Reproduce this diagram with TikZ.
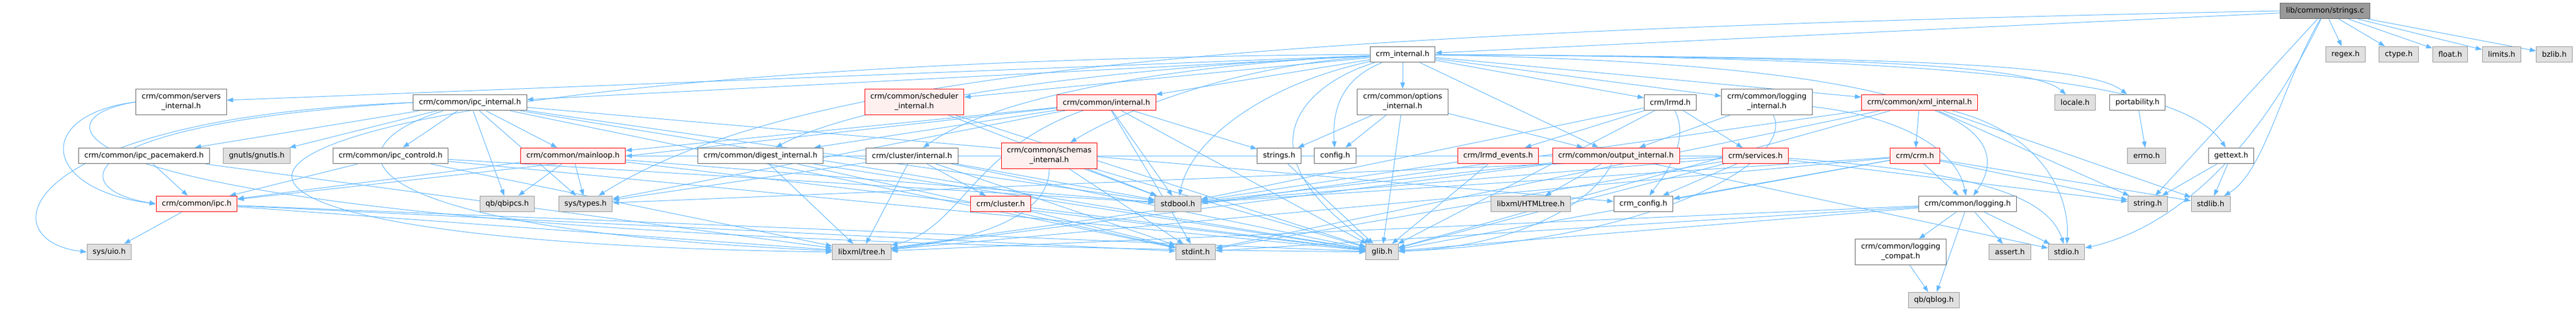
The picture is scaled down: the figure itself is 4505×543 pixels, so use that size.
\documentclass[tikz,border=0pt]{standalone}
\usepackage{fontspec}
\setmainfont{DejaVu Sans}
\usetikzlibrary{arrows.meta,backgrounds}
\definecolor{incblue}{HTML}{63B8FF}
\definecolor{hdrline}{HTML}{666666}
\definecolor{sysline}{HTML}{999999}
\definecolor{sysfill}{HTML}{E0E0E0}
\definecolor{cutfill}{HTML}{FFF0F0}
\definecolor{srcfill}{HTML}{999999}

\begin{document}
\begin{tikzpicture}[x=1pt,y=-1pt,
  font=\fontsize{13}{17}\selectfont,
  >={Triangle[length=11pt,width=8pt]},
  hdr/.style={draw=hdrline,fill=white,line width=1pt,inner xsep=10pt,inner ysep=7.5pt,minimum height=27pt,align=center},
  syshdr/.style={hdr,draw=sysline,fill=sysfill},
  cuthdr/.style={hdr,draw=red,fill=cutfill},
  srcfile/.style={hdr,draw=hdrline,fill=srcfill},
  inc/.style={->,draw=incblue,line width=1pt}]
\useasboundingbox (0,0) rectangle (4505,543);
\node[srcfile] (strc) at (4066,19) {lib/common/strings.c};
\node[hdr] (crmint) at (2453,95) {crm\_internal.h};
\node[syshdr] (regex) at (4102,95) {regex.h};
\node[syshdr] (ctype) at (4195,95) {ctype.h};
\node[syshdr] (float) at (4285,95) {float.h};
\node[syshdr] (limits) at (4375,95) {limits.h};
\node[syshdr] (bzlib) at (4467,95) {bzlib.h};
\node[hdr] (servint) at (317,178) {crm/common/servers\\\_internal.h};
\node[hdr] (ipcint) at (822,179) {crm/common/ipc\_internal.h};
\node[cuthdr] (schedint) at (1599,178) {crm/common/scheduler\\\_internal.h};
\node[cuthdr] (cmnint) at (1935,179) {crm/common/internal.h};
\node[hdr] (optint) at (2453,178) {crm/common/options\\\_internal.h};
\node[hdr] (lrmd) at (2921,179) {crm/lrmd.h};
\node[hdr] (logint) at (3090,178) {crm/common/logging\\\_internal.h};
\node[cuthdr] (xmlint) at (3357,179) {crm/common/xml\_internal.h};
\node[syshdr] (locale) at (3629,179) {locale.h};
\node[hdr] (portab) at (3738,179) {portability.h};
\node[hdr] (ipcpcmk) at (252,272) {crm/common/ipc\_pacemakerd.h};
\node[syshdr] (gnutls) at (449,272) {gnutls/gnutls.h};
\node[hdr] (ipcctl) at (683,272) {crm/common/ipc\_controld.h};
\node[cuthdr] (mainloop) at (1002,272) {crm/common/mainloop.h};
\node[hdr] (digint) at (1330,272) {crm/common/digest\_internal.h};
\node[hdr] (clustint) at (1595,272) {crm/cluster/internal.h};
\node[cuthdr] (schemint) at (1835,272) {crm/common/schemas\\\_internal.h};
\node[hdr] (strsh) at (2237,272) {strings.h};
\node[hdr] (config) at (2335,272) {config.h};
\node[cuthdr] (lrmdev) at (2620,272) {crm/lrmd\_events.h};
\node[cuthdr] (outint) at (2826,272) {crm/common/output\_internal.h};
\node[cuthdr] (services) at (3070,272) {crm/services.h};
\node[cuthdr] (crmh) at (3349,272) {crm/crm.h};
\node[syshdr] (errno) at (3754,272) {errno.h};
\node[hdr] (gettext) at (3902,272) {gettext.h};
\node[cuthdr] (ipc) at (344,356) {crm/common/ipc.h};
\node[syshdr] (qbipcs) at (887,356) {qb/qbipcs.h};
\node[syshdr] (systypes) at (1024,356) {sys/types.h};
\node[cuthdr] (cluster) at (1750,356) {crm/cluster.h};
\node[syshdr] (stdbool) at (2060,356) {stdbool.h};
\node[syshdr] (htmltree) at (2677,356) {libxml/HTMLtree.h};
\node[hdr] (crmconf) at (2874,356) {crm\_config.h};
\node[hdr] (logging) at (3441,356) {crm/common/logging.h};
\node[syshdr] (string) at (3756,356) {string.h};
\node[syshdr] (stdlib) at (3866,356) {stdlib.h};
\node[syshdr] (uio) at (191,440) {sys/uio.h};
\node[syshdr] (xmltree) at (1507,440) {libxml/tree.h};
\node[syshdr] (stdint) at (2091,440) {stdint.h};
\node[syshdr] (glib) at (2417,440) {glib.h};
\node[hdr] (logcompat) at (3324,440) {crm/common/logging\\\_compat.h};
\node[syshdr] (assert) at (3515,440) {assert.h};
\node[syshdr] (stdio) at (3614,440) {stdio.h};
\node[syshdr] (qblog) at (3382,524) {qb/qblog.h};
\begin{scope}[on background layer]
\draw[inc] (strc) -- (crmint);
\draw[inc] (strc) -- (regex);
\draw[inc] (strc) -- (ctype);
\draw[inc] (strc) -- (float);
\draw[inc] (strc) -- (limits);
\draw[inc] (strc) -- (bzlib);
\draw[inc] (strc) -- (string);
\draw[inc] (strc) .. controls (3990,150) and (3960,300) .. (stdlib);
\draw[inc] (strc) .. controls (3915,330) and (3750,410) .. (stdio);
\draw[inc] (strc.west) .. controls (2200,55) and (1400,120) .. (systypes);
\draw[inc] (crmint) -- (servint);
\draw[inc] (crmint) -- (ipcint);
\draw[inc] (crmint) -- (schedint);
\draw[inc] (crmint) -- (cmnint);
\draw[inc] (crmint) .. controls (2100,110) and (1750,160) .. (clustint);
\draw[inc] (crmint) .. controls (2150,115) and (1950,200) .. (schemint);
\draw[inc] (crmint) .. controls (1900,120) and (1500,180) .. (digint);
\draw[inc] (crmint) -- (optint);
\draw[inc] (crmint) -- (lrmd);
\draw[inc] (crmint) -- (logint);
\draw[inc] (crmint) -- (xmlint);
\draw[inc] (crmint) .. controls (3200,100) and (3550,110) .. (locale);
\draw[inc] (crmint) .. controls (3300,100) and (3650,110) .. (portab);
\draw[inc] (crmint) .. controls (3500,100) and (3820,150) .. (gettext);
\draw[inc] (crmint) .. controls (3300,110) and (3550,200) .. (logging);
\draw[inc] (crmint) -- (outint);
\draw[inc] (crmint) .. controls (2340,140) and (2330,200) .. (config);
\draw[inc] (crmint) .. controls (2300,140) and (2150,250) .. (glib);
\draw[inc] (crmint) .. controls (2200,150) and (2080,250) .. (stdbool);
\draw[inc] (crmint.west) .. controls (250,110) and (-60,420) .. (xmltree.west);
\draw[inc] (ipcint) -- (ipcpcmk);
\draw[inc] (ipcint) -- (gnutls);
\draw[inc] (ipcint) -- (ipcctl);
\draw[inc] (ipcint.west) .. controls (120,215) and (110,330) .. (ipc.west);
\draw[inc] (ipcint.west) .. controls (20,205) and (-20,420) .. (uio.west);
\draw[inc] (ipcint) -- (mainloop);
\draw[inc] (ipcint) -- (qbipcs);
\draw[inc] (ipcint) -- (systypes);
\draw[inc] (ipcint) -- (stdbool);
\draw[inc] (ipcint) -- (stdint);
\draw[inc] (ipcint) .. controls (560,260) and (600,400) .. (xmltree);
\draw[inc] (ipcint) -- (glib);
\draw[inc] (ipcint) -- (crmconf);
\draw[inc] (servint.west) .. controls (60,200) and (70,330) .. (ipc.west);
\draw[inc] (servint.west) .. controls (30,210) and (60,420) .. (glib);
\draw[inc] (ipcpcmk) -- (ipc);
\draw[inc] (ipcpcmk) -- (xmltree);
\draw[inc] (ipcctl) -- (ipc);
\draw[inc] (ipcctl) -- (stdbool);
\draw[inc] (ipcctl) -- (xmltree);
\draw[inc] (ipcctl) -- (glib);
\draw[inc] (ipc) -- (uio);
\draw[inc] (ipc) -- (stdint);
\draw[inc] (ipc) -- (xmltree);
\draw[inc] (ipc) -- (glib);
\draw[inc] (mainloop) -- (qbipcs);
\draw[inc] (mainloop) -- (systypes);
\draw[inc] (mainloop) -- (stdbool);
\draw[inc] (mainloop) -- (glib);
\draw[inc] (mainloop) -- (ipc);
\draw[inc] (digint) -- (xmltree);
\draw[inc] (digint) -- (glib);
\draw[inc] (digint) -- (stdint);
\draw[inc] (schedint) -- (stdbool);
\draw[inc] (schedint) -- (glib);
\draw[inc] (cmnint) -- (strsh);
\draw[inc] (cmnint) -- (stdbool);
\draw[inc] (cmnint) -- (stdint);
\draw[inc] (cmnint) -- (mainloop);
\draw[inc] (cmnint) -- (digint);
\draw[inc] (cmnint) .. controls (1700,260) and (1680,400) .. (xmltree);
\draw[inc] (cmnint) -- (glib);
\draw[inc] (cmnint) -- (systypes);
\draw[inc] (cmnint) -- (ipc);
\draw[inc] (clustint) -- (cluster);
\draw[inc] (clustint) -- (stdbool);
\draw[inc] (clustint) -- (stdint);
\draw[inc] (clustint) -- (xmltree);
\draw[inc] (clustint) -- (glib);
\draw[inc] (clustint) -- (systypes);
\draw[inc] (schemint) .. controls (1835,380) and (1700,420) .. (xmltree);
\draw[inc] (schemint) -- (stdbool);
\draw[inc] (schemint) -- (stdint);
\draw[inc] (schemint) -- (glib);
\draw[inc] (cluster) -- (glib);
\draw[inc] (cluster) -- (stdint);
\draw[inc] (optint) -- (config);
\draw[inc] (optint) -- (strsh);
\draw[inc] (optint) -- (glib);
\draw[inc] (optint) -- (outint);
\draw[inc] (strsh) -- (glib);
\draw[inc] (lrmd) -- (lrmdev);
\draw[inc] (lrmd) .. controls (2960,250) and (2900,320) .. (crmconf);
\draw[inc] (lrmd) -- (services);
\draw[inc] (lrmd) -- (stdbool);
\draw[inc] (lrmd) -- (glib);
\draw[inc] (lrmdev) -- (glib);
\draw[inc] (lrmdev) -- (stdbool);
\draw[inc] (outint) -- (htmltree);
\draw[inc] (outint) .. controls (2780,360) and (2650,430) .. (glib);
\draw[inc] (outint) -- (xmltree);
\draw[inc] (outint) -- (stdbool);
\draw[inc] (outint) -- (stdio);
\draw[inc] (logint) .. controls (3300,200) and (3420,250) .. (logging);
\draw[inc] (logint) .. controls (3140,280) and (2900,420) .. (glib);
\draw[inc] (logint) -- (outint);
\draw[inc] (xmlint) -- (crmh);
\draw[inc] (xmlint) .. controls (3560,230) and (3620,330) .. (stdio);
\draw[inc] (xmlint) -- (stdlib);
\draw[inc] (xmlint) -- (string);
\draw[inc] (xmlint) -- (xmltree);
\draw[inc] (xmlint) -- (glib);
\draw[inc] (xmlint) -- (stdint);
\draw[inc] (crmh) -- (crmconf);
\draw[inc] (crmh) -- (logging);
\draw[inc] (crmh) -- (stdlib);
\draw[inc] (crmh) -- (string);
\draw[inc] (crmh) -- (glib);
\draw[inc] (crmh) -- (stdbool);
\draw[inc] (crmh) -- (xmltree);
\draw[inc] (services) -- (glib);
\draw[inc] (services) .. controls (3450,300) and (3580,340) .. (stdio);
\draw[inc] (services) -- (stdint);
\draw[inc] (services) -- (string);
\draw[inc] (services) -- (stdbool);
\draw[inc] (services) -- (systypes);
\draw[inc] (services) -- (mainloop);
\draw[inc] (services) -- (crmconf);
\draw[inc] (logging) -- (logcompat);
\draw[inc] (logging) -- (qblog);
\draw[inc] (logging) -- (assert);
\draw[inc] (logging) -- (stdio);
\draw[inc] (logging) -- (glib);
\draw[inc] (logging) -- (xmltree);
\draw[inc] (logging) -- (stdint);
\draw[inc] (logcompat) -- (qblog);
\draw[inc] (portab) -- (errno);
\draw[inc] (gettext) -- (string);
\draw[inc] (gettext) -- (stdlib);
\end{scope}
\end{tikzpicture}
\end{document}
